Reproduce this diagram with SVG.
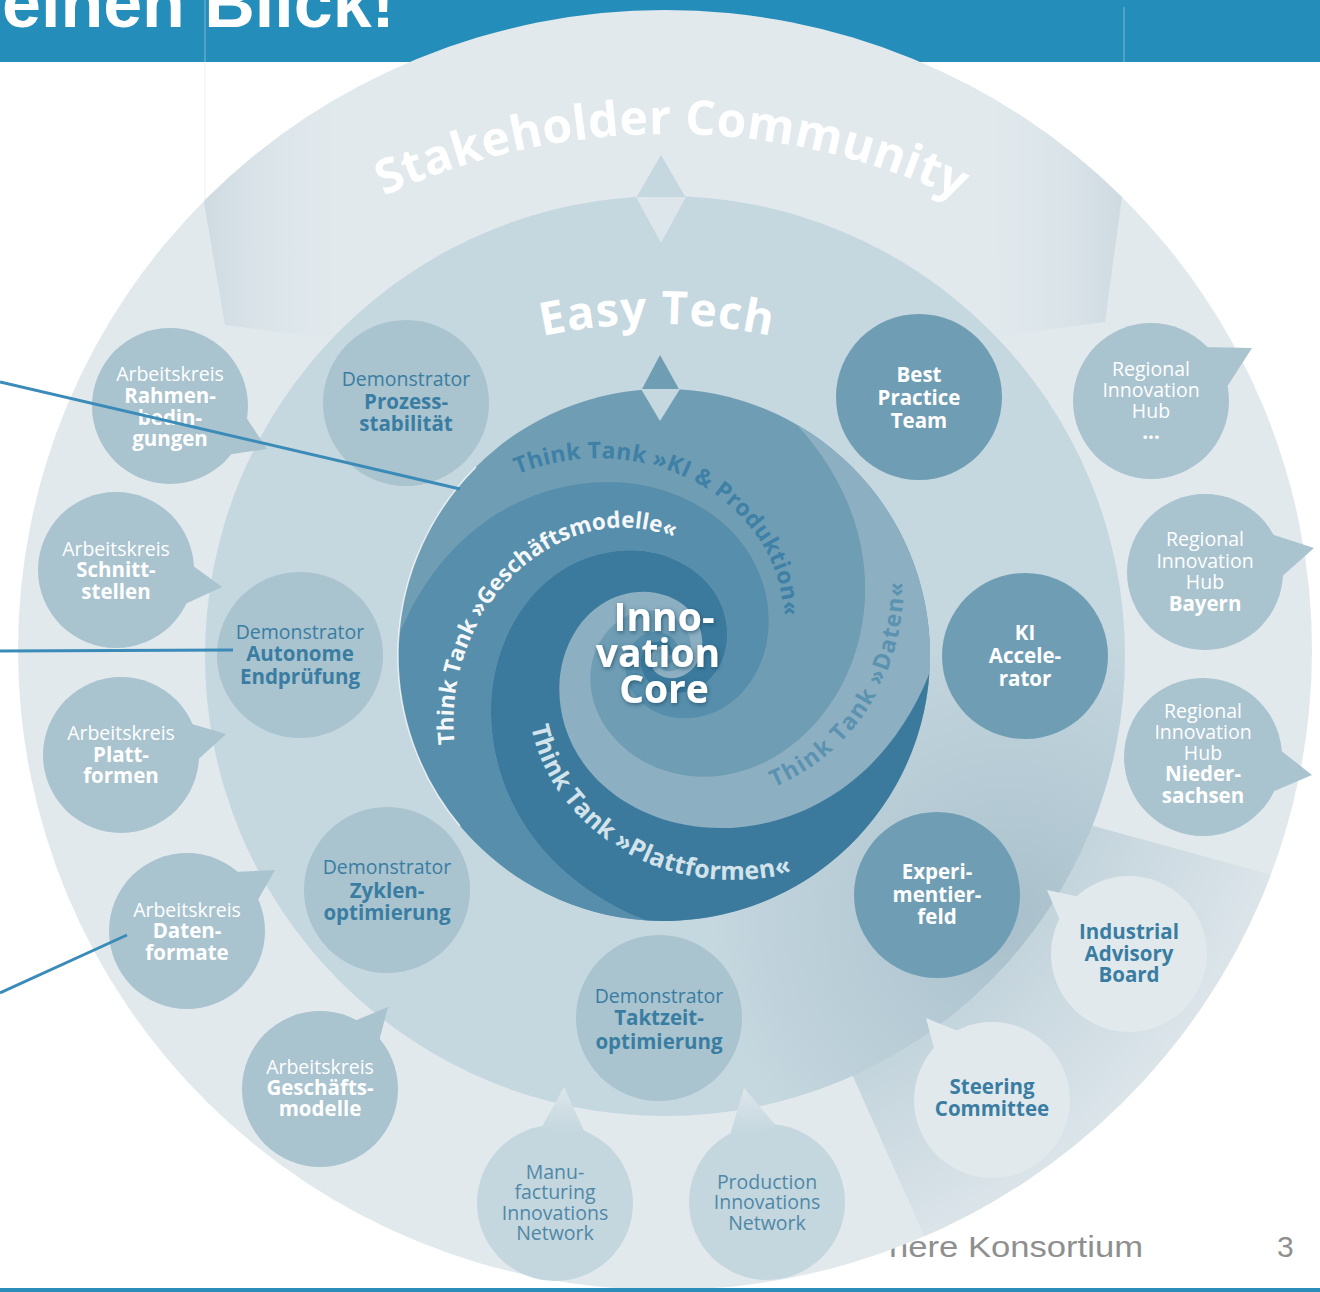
<svg xmlns="http://www.w3.org/2000/svg" width="1320" height="1292" viewBox="0 0 1320 1292">
  <style>
    text { font-family: "Open Sans", "DejaVu Sans", sans-serif; text-anchor: middle; }
    .bub { fill: #A9C3CF; }
    .dark { fill: #6F9DB4; }
    .pale { fill: #E1E9ED; }
    .net { fill: #C4D6DE; }
    .r { font-weight: 400; font-size: 19.5px; }
    .bd { font-weight: 700; font-size: 20.5px; }
    .w { fill: #FFFFFF; }
    .bl { fill: #3A7DA2; }
    .nb { fill: #4F88A7; }
    .conn { stroke: #3B8BB8; stroke-width: 3; fill: none; }
    .ring-title { font-weight: 700; fill: #FFFFFF; }
    .tt { font-weight: 700; text-anchor: start; }
  </style>
  <defs>
    <clipPath id="diskClip">
      <ellipse cx="665" cy="650" rx="647" ry="640"/>
    </clipPath>
    <clipPath id="etClip">
      <circle cx="665" cy="656" r="460"/>
    </clipPath>
    <linearGradient id="wingShade" gradientUnits="userSpaceOnUse" x1="203" y1="0" x2="1122" y2="0">
      <stop offset="0" stop-color="#CEDAE1"/>
      <stop offset="0.17" stop-color="#E1E9ED" stop-opacity="0"/>
      <stop offset="0.83" stop-color="#E1E9ED" stop-opacity="0"/>
      <stop offset="1" stop-color="#CEDAE1"/>
    </linearGradient>
    <radialGradient id="govShade" gradientUnits="userSpaceOnUse" cx="665" cy="656" r="650">
      <stop offset="0.68" stop-color="#C2D3DB"/>
      <stop offset="1" stop-color="#DCE5EA"/>
    </radialGradient>
    <radialGradient id="etShade" gradientUnits="userSpaceOnUse" cx="1010" cy="920" r="300">
      <stop offset="0" stop-color="#9DB7C4" stop-opacity="0.7"/>
      <stop offset="1" stop-color="#9DB7C4" stop-opacity="0"/>
    </radialGradient>
    <linearGradient id="tailUp" x1="0" y1="1" x2="0" y2="0">
      <stop offset="0" stop-color="#C4D6DE"/>
      <stop offset="1" stop-color="#DCE6EB"/>
    </linearGradient>
    <filter id="coreGlow" x="-20%" y="-20%" width="140%" height="140%">
      <feDropShadow dx="1" dy="1.5" stdDeviation="2" flood-color="#1B4A66" flood-opacity="0.75"/>
    </filter>
    <!-- one 90 degree strip of the logarithmic swirl, centred on the origin -->
    <path id="strip" d="M266,0 A266,266 0 0 1 0,266 C-146.9,219 -189.3,88.9 -160.9,0 C-132.5,-88.9 -53.8,-114.5 0,-97.33 C53.8,-80.1 69.3,-32.5 58.88,0 C48.5,32.5 19.7,41.9 0,35.62 C-19.7,29.3 -25.3,11.9 -21.54,0 C-17.7,-11.9 -7.2,-15.3 0,-13.03 C7.2,-10.7 9.3,-4.4 7.88,0 L4.77,0 C5.6,-2.6 4.4,-6.5 0,-7.88 C-4.4,-9.3 -10.7,-7.2 -13.03,0 C-15.3,7.2 -11.9,17.7 0,21.54 C11.9,25.3 29.3,19.7 35.62,0 C41.9,-19.7 32.5,-48.5 0,-58.88 C-32.5,-69.3 -80.1,-53.8 -97.33,0 C-114.5,53.8 -88.9,132.5 0,160.9 C88.9,189.3 219,146.9 266,0 Z"/>
    <!-- swirl guide running inwards from the rim -->
    <path id="spIn" d="M266,0 C219,146.9 88.9,189.3 0,160.9 C-88.9,132.5 -114.5,53.8 -97.33,0 C-80.1,-53.8 -32.5,-69.3 0,-58.88"/>
    <!-- swirl guide running outwards to the rim -->
    <path id="spOut" d="M-97.33,0 C-114.5,53.8 -88.9,132.5 0,160.9 C88.9,189.3 219,146.9 266,0"/>
    <path id="arcStake" d="M-12,814 A680,680 0 0 1 1348,814"/>
    <path id="arcEasy" d="M110,871 A547,547 0 0 1 1204,871"/>
  </defs>

  <rect x="0" y="0" width="1320" height="1292" fill="#FFFFFF"/>

  <!-- title banner -->
  <g id="banner">
    <rect x="0" y="0" width="1320" height="62" fill="#248DBA"/>
    <line x1="205" y1="0" x2="205" y2="62" stroke="#7DB8D4" stroke-width="1"/>
    <line x1="205" y1="62" x2="205" y2="200" stroke="#EEF1F3" stroke-width="1"/>
    <line x1="1124" y1="7" x2="1124" y2="62" stroke="#7DB8D4" stroke-width="1"/>
    <text x="2" y="27" style="font-family:'Liberation Sans',Arial,sans-serif;font-weight:700;font-size:70px;text-anchor:start" fill="#FFFFFF">einen Blick!</text>
  </g>

  <!-- footer -->
  <g id="footer">
    <text x="889" y="1257" textLength="254" lengthAdjust="spacingAndGlyphs" style="font-family:'Liberation Sans',Arial,sans-serif;font-size:30px;text-anchor:start" fill="#8F8F8F">here Konsortium</text>
    <text x="1277" y="1257" style="font-family:'Liberation Sans',Arial,sans-serif;font-size:30px;text-anchor:start" fill="#8F8F8F">3</text>
  </g>

  <!-- outer ring: stakeholder community -->
  <g id="stakeholder-ring">
    <ellipse cx="665" cy="650" rx="647" ry="640" fill="#E1E9ED"/>
    <g clip-path="url(#diskClip)">
      <polygon points="203,0 203,197 225,325 664,380 1105,322 1122,197 1122,0" fill="url(#wingShade)"/>
      <polygon points="1090,825 1345,895 1340,1320 1020,1450 851,1072" fill="url(#govShade)"/>
    </g>
    <text class="ring-title" style="font-size:48px;letter-spacing:0.5px"><textPath href="#arcStake" startOffset="50.2%">Stakeholder Community</textPath></text>
    <polygon points="636,198 661,155 686,198" fill="#C5D7DF"/>
  </g>

  <!-- middle ring: easy tech -->
  <g id="easy-tech-ring">
    <circle cx="665" cy="656" r="460" fill="#C5D7DF"/>
    <circle cx="665" cy="656" r="460" fill="url(#etShade)" clip-path="url(#etClip)"/>
    <polygon points="636,197 686,197 661,243" fill="#DCE6EB"/>
    <text class="ring-title" style="font-size:46px;letter-spacing:1px"><textPath href="#arcEasy" startOffset="50%">Easy Tech</textPath></text>
    <polygon points="641,391 660,355 680,391" fill="#6F9DB4"/>
  </g>

  <!-- innovation core swirl -->
  <g id="innovation-core">
    <circle cx="664" cy="655" r="266" fill="#6F9DB4"/>
    <use href="#strip" transform="translate(664,655) rotate(300)" fill="#8DAFC2"/>
    <use href="#strip" transform="translate(664,655) rotate(4)" fill="#3B7A9D"/>
    <use href="#strip" transform="translate(664,655) rotate(94)" fill="#578EAB"/>
    <path d="M460,826 A266,266 0 0 1 476,467" fill="none" stroke="#FFFFFF" stroke-opacity="0.75" stroke-width="1.5"/>
    <polygon points="641,389 680,389 660,421" fill="#C5D7DF"/>
    <g transform="translate(664,655) rotate(206)">
      <text class="tt" style="font-size:23px;letter-spacing:0.3px" fill="#3F80A6"><textPath href="#spIn" startOffset="113">Think Tank »KI &amp; Produktion«</textPath></text>
    </g>
    <g transform="translate(664,655) rotate(128)">
      <text class="tt" style="font-size:22.5px" fill="#F4F8FA"><textPath href="#spIn" startOffset="130">Think Tank »Geschäftsmodelle«</textPath></text>
    </g>
    <g transform="translate(664,655) rotate(50)">
      <text class="tt" style="font-size:25px;letter-spacing:0.2px" fill="#D3E3EB"><textPath href="#spOut" startOffset="176">Think Tank »Plattformen«</textPath></text>
    </g>
    <g transform="translate(664,655) rotate(332)">
      <text class="tt" style="font-size:23px;letter-spacing:1.5px" fill="#5B92B0"><textPath href="#spOut" startOffset="245">Think Tank »Daten«</textPath></text>
    </g>
    <g filter="url(#coreGlow)" style="font-weight:700;font-size:39px" fill="#FFFFFF">
      <text x="664" y="631">Inno-</text>
      <text x="658" y="667">vation</text>
      <text x="664" y="703">Core</text>
    </g>
  </g>

  <!-- working groups (speech bubbles) -->
  <g id="ak-rahmenbedingungen">
    <circle class="bub" cx="170" cy="406" r="78"/>
    <polygon class="bub" points="238,405 267,449 226,455"/>
    <text class="r w" x="170" y="381">Arbeitskreis</text>
    <text class="bd w" x="170" y="403">Rahmen-</text>
    <text class="bd w" x="170" y="425">bedin-</text>
    <text class="bd w" x="170" y="446">gungen</text>
  </g>
  <g id="ak-schnittstellen">
    <circle class="bub" cx="116" cy="570" r="78"/>
    <polygon class="bub" points="185,560 222,587 183,605"/>
    <text class="r w" x="116" y="556">Arbeitskreis</text>
    <text class="bd w" x="116" y="577">Schnitt-</text>
    <text class="bd w" x="116" y="599">stellen</text>
  </g>
  <g id="ak-plattformen">
    <circle class="bub" cx="121" cy="755" r="78"/>
    <polygon class="bub" points="185,722 226,734 192,765"/>
    <text class="r w" x="121" y="740">Arbeitskreis</text>
    <text class="bd w" x="121" y="762">Platt-</text>
    <text class="bd w" x="121" y="783">formen</text>
  </g>
  <g id="ak-datenformate">
    <circle class="bub" cx="187" cy="931" r="78"/>
    <polygon class="bub" points="232,872 275,870 255,905"/>
    <text class="r w" x="187" y="917">Arbeitskreis</text>
    <text class="bd w" x="187" y="938">Daten-</text>
    <text class="bd w" x="187" y="960">formate</text>
  </g>
  <g id="ak-geschaeftsmodelle">
    <circle class="bub" cx="320" cy="1089" r="78"/>
    <polygon class="bub" points="352,1022 388,1007 378,1045"/>
    <text class="r w" x="320" y="1074">Arbeitskreis</text>
    <text class="bd w" x="320" y="1095">Geschäfts-</text>
    <text class="bd w" x="320" y="1116">modelle</text>
  </g>

  <!-- demonstrators -->
  <g id="demo-prozessstabilitaet">
    <circle class="bub" cx="406" cy="403" r="83"/>
    <text class="r bl" x="406" y="386">Demonstrator</text>
    <text class="bd bl" x="406" y="409">Prozess-</text>
    <text class="bd bl" x="406" y="431">stabilität</text>
  </g>
  <g id="demo-endpruefung">
    <circle class="bub" cx="300" cy="655" r="83"/>
    <text class="r bl" x="300" y="639">Demonstrator</text>
    <text class="bd bl" x="300" y="661">Autonome</text>
    <text class="bd bl" x="300" y="684">Endprüfung</text>
  </g>
  <g id="demo-zyklenoptimierung">
    <circle class="bub" cx="387" cy="890" r="83"/>
    <text class="r bl" x="387" y="874">Demonstrator</text>
    <text class="bd bl" x="387" y="898">Zyklen-</text>
    <text class="bd bl" x="387" y="920">optimierung</text>
  </g>
  <g id="demo-taktzeit">
    <circle class="bub" cx="659" cy="1018" r="83"/>
    <text class="r bl" x="659" y="1003">Demonstrator</text>
    <text class="bd bl" x="659" y="1025">Taktzeit-</text>
    <text class="bd bl" x="659" y="1049">optimierung</text>
  </g>

  <!-- easy tech units -->
  <g id="best-practice-team">
    <circle class="dark" cx="919" cy="397" r="83"/>
    <text class="bd w" x="919" y="382">Best</text>
    <text class="bd w" x="919" y="405">Practice</text>
    <text class="bd w" x="919" y="428">Team</text>
  </g>
  <g id="ki-accelerator">
    <circle class="dark" cx="1025" cy="656" r="83"/>
    <text class="bd w" x="1025" y="640">KI</text>
    <text class="bd w" x="1025" y="663">Accele-</text>
    <text class="bd w" x="1025" y="686">rator</text>
  </g>
  <g id="experimentierfeld">
    <circle class="dark" cx="937" cy="895" r="83"/>
    <text class="bd w" x="937" y="879">Experi-</text>
    <text class="bd w" x="937" y="902">mentier-</text>
    <text class="bd w" x="937" y="924">feld</text>
  </g>

  <!-- regional hubs -->
  <g id="hub-more">
    <circle class="bub" cx="1151" cy="401" r="78"/>
    <polygon class="bub" points="1200,347 1252,348 1225,390"/>
    <text class="r w" x="1151" y="376">Regional</text>
    <text class="r w" x="1151" y="397">Innovation</text>
    <text class="r w" x="1151" y="418">Hub</text>
    <text class="bd w" x="1151" y="439">...</text>
  </g>
  <g id="hub-bayern">
    <circle class="bub" cx="1205" cy="572" r="78"/>
    <polygon class="bub" points="1265,532 1314,548 1278,580"/>
    <text class="r w" x="1205" y="546">Regional</text>
    <text class="r w" x="1205" y="568">Innovation</text>
    <text class="r w" x="1205" y="589">Hub</text>
    <text class="bd w" x="1205" y="611">Bayern</text>
  </g>
  <g id="hub-niedersachsen">
    <circle class="bub" cx="1203" cy="757" r="79"/>
    <polygon class="bub" points="1270,742 1312,775 1272,792"/>
    <text class="r w" x="1203" y="718">Regional</text>
    <text class="r w" x="1203" y="739">Innovation</text>
    <text class="r w" x="1203" y="760">Hub</text>
    <text class="bd w" x="1203" y="781">Nieder-</text>
    <text class="bd w" x="1203" y="803">sachsen</text>
  </g>

  <!-- governance -->
  <g id="industrial-advisory-board">
    <circle class="pale" cx="1129" cy="954" r="78"/>
    <polygon class="pale" points="1085,898 1047,890 1062,925"/>
    <text class="bd bl" x="1129" y="939">Industrial</text>
    <text class="bd bl" x="1129" y="961">Advisory</text>
    <text class="bd bl" x="1129" y="982">Board</text>
  </g>
  <g id="steering-committee">
    <circle class="pale" cx="992" cy="1100" r="78"/>
    <polygon class="pale" points="960,1032 926,1018 935,1052"/>
    <text class="bd bl" x="992" y="1094">Steering</text>
    <text class="bd bl" x="992" y="1116">Committee</text>
  </g>

  <!-- networks -->
  <g id="manufacturing-network">
    <circle class="net" cx="555" cy="1203" r="78"/>
    <polygon points="540,1130 564,1087 585,1133" fill="url(#tailUp)"/>
    <text class="r nb" x="555" y="1179">Manu-</text>
    <text class="r nb" x="555" y="1199">facturing</text>
    <text class="r nb" x="555" y="1220">Innovations</text>
    <text class="r nb" x="555" y="1240">Network</text>
  </g>
  <g id="production-network">
    <circle class="net" cx="767" cy="1202" r="78"/>
    <polygon points="730,1135 744,1088 778,1128" fill="url(#tailUp)"/>
    <text class="r nb" x="767" y="1189">Production</text>
    <text class="r nb" x="767" y="1209">Innovations</text>
    <text class="r nb" x="767" y="1230">Network</text>
  </g>

  <!-- connectors coming in from the left -->
  <g id="connectors">
    <line class="conn" x1="0" y1="382" x2="460" y2="489"/>
    <line class="conn" x1="0" y1="651" x2="233" y2="650"/>
    <line class="conn" x1="0" y1="993" x2="127" y2="935"/>
  </g>

  <rect x="0" y="1288" width="1320" height="4" fill="#2A8DBA"/>
</svg>
